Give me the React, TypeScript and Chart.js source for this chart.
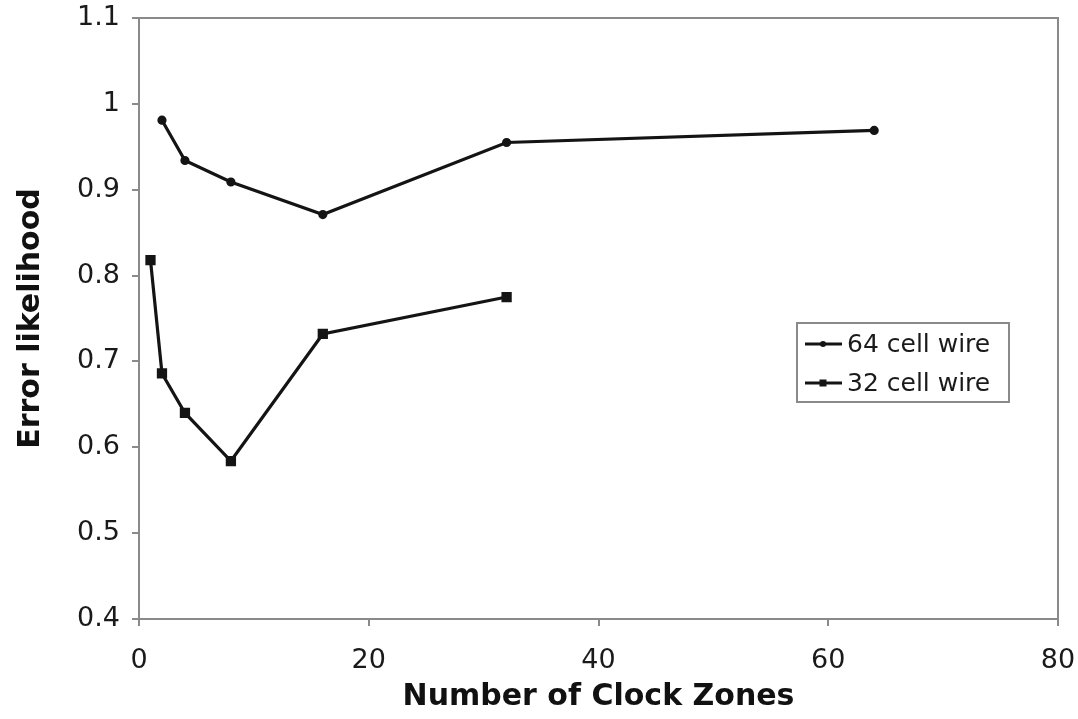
import React, { useEffect, useRef } from "react";
import { Chart, registerables } from "chart.js";

Chart.register(...registerables);

const clockZones64 = [2, 4, 8, 16, 32, 64];
const errors64 = [0.981, 0.934, 0.909, 0.871, 0.955, 0.969];
const clockZones32 = [1, 2, 4, 8, 16, 32];
const errors32 = [0.818, 0.686, 0.64, 0.584, 0.732, 0.775];
const seriesNames = ["64 cell wire", "32 cell wire"];
const xTitle = "Number of Clock Zones";
const yTitle = "Error likelihood";

const FONT = "'DejaVu Sans', sans-serif";

const frameAndLegend = {
  id: "frameAndLegend",
  afterDatasetsDraw(chart: any) {
    const { ctx, chartArea } = chart;
    ctx.save();
    ctx.strokeStyle = "#8a8a8a";
    ctx.lineWidth = 2;
    ctx.strokeRect(chartArea.left, chartArea.top, chartArea.right - chartArea.left, chartArea.bottom - chartArea.top);
    // legend
    const bx = 797, by = 323, bw = 212, bh = 79;
    ctx.fillStyle = "#ffffff";
    ctx.fillRect(bx, by, bw, bh);
    ctx.strokeStyle = "#8a8a8a";
    ctx.lineWidth = 2;
    ctx.strokeRect(bx, by, bw, bh);
    const rows = [344, 383];
    chart.data.datasets.forEach((ds: any, i: number) => {
      const y = rows[i];
      ctx.strokeStyle = ds.borderColor;
      ctx.lineWidth = ds.borderWidth;
      ctx.beginPath();
      ctx.moveTo(805, y);
      ctx.lineTo(842, y);
      ctx.stroke();
      ctx.fillStyle = ds.pointBackgroundColor;
      const cx = 823;
      if (ds.pointStyle === "rect") {
        const r = ds.pointRadius;
        ctx.fillRect(cx - r * 0.7, y - r * 0.7, r * 1.4, r * 1.4);
      } else {
        ctx.beginPath();
        ctx.arc(cx, y, ds.pointRadius, 0, Math.PI * 2);
        ctx.fill();
      }
      ctx.fillStyle = "#1a1a1a";
      ctx.font = `25px ${FONT}`;
      ctx.textBaseline = "middle";
      ctx.textAlign = "left";
      ctx.fillText(ds.label, 847, y + 1);
    });
    ctx.restore();
  },
};

export default function App() {
  const ref = useRef<HTMLCanvasElement | null>(null);
  useEffect(() => {
    if (!ref.current) return;
    const chart = new Chart(ref.current, {
      type: "line",
      data: {
        datasets: [
          {
            label: seriesNames[0],
            data: clockZones64.map((x, i) => ({ x, y: errors64[i] })),
            borderColor: "#141414",
            backgroundColor: "#141414",
            pointBackgroundColor: "#141414",
            pointBorderColor: "#141414",
            borderWidth: 3.2,
            pointRadius: 3,
            pointStyle: "circle",
          },
          {
            label: seriesNames[1],
            data: clockZones32.map((x, i) => ({ x, y: errors32[i] })),
            borderColor: "#141414",
            backgroundColor: "#141414",
            pointBackgroundColor: "#141414",
            pointBorderColor: "#141414",
            borderWidth: 3.2,
            pointRadius: 5,
            pointStyle: "rect",
          },
        ],
      },
      options: {
        responsive: false,
        animation: false,
        layout: { padding: { top: 18, right: 20, left: 0, bottom: 0 } },
        plugins: { legend: { display: false }, tooltip: { enabled: false } },
        scales: {
          x: {
            type: "linear",
            min: 0,
            max: 80,
            ticks: { stepSize: 20, color: "#1a1a1a", font: { family: FONT, size: 27 }, padding: 19 },
            grid: { display: true, drawOnChartArea: false, drawTicks: true, tickLength: 7, color: "#8a8a8a", lineWidth: 2 },
            border: { display: false },
            title: { display: true, text: xTitle, color: "#111", font: { family: FONT, size: 30, weight: "bold" }, padding: { top: 3 } },
            afterFit(scale: any) {
              scale.height = 100;
              scale.paddingLeft = 0;
              scale.paddingRight = 0;
            },
          },
          y: {
            type: "linear",
            min: 0.4,
            max: 1.1,
            ticks: {
              stepSize: 0.1,
              color: "#1a1a1a",
              font: { family: FONT, size: 27 },
              padding: 12,
              callback: (v: any) => String(Math.round(Number(v) * 10) / 10),
            },
            grid: { display: true, drawOnChartArea: false, drawTicks: true, tickLength: 7, color: "#8a8a8a", lineWidth: 2 },
            border: { display: false },
            title: { display: true, text: yTitle, color: "#111", font: { family: FONT, size: 30, weight: "bold" }, padding: { top: 13, bottom: 0 } },
            afterFit(scale: any) {
              scale.width = 139;
              scale.paddingTop = 0;
              scale.paddingBottom = 0;
            },
          },
        },
      } as any,
      plugins: [frameAndLegend],
    });
    return () => chart.destroy();
  }, []);
  return (
    <div style={{ position: "fixed", left: 0, top: 0, width: 1078, height: 719, background: "#fff" }}>
      <canvas ref={ref} width={1078} height={719} style={{ width: 1078, height: 719 }} />
    </div>
  );
}
